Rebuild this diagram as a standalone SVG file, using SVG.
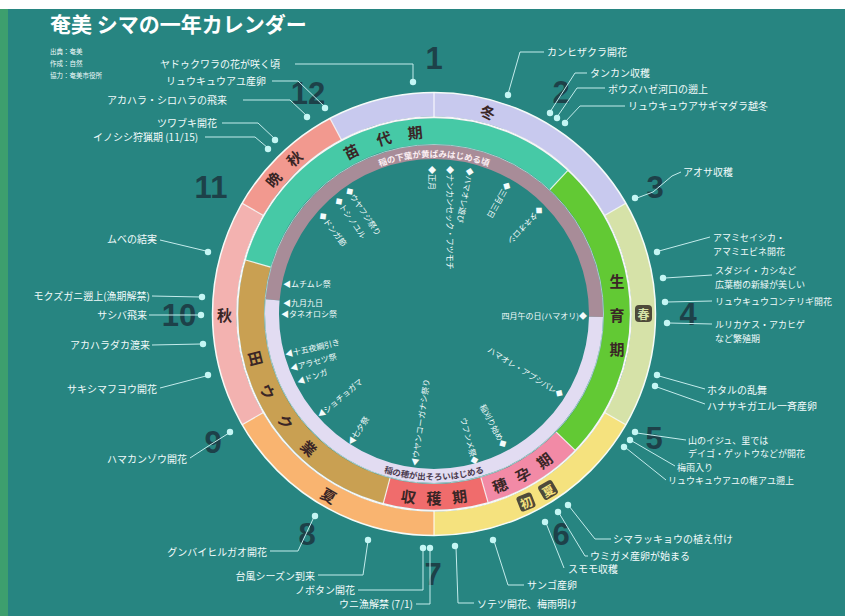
<svg xmlns="http://www.w3.org/2000/svg" width="845" height="616" viewBox="0 0 845 616">
<style>
.bg{fill:#278581}
.seg{fill:none}
.sep{stroke:#ffffff;stroke-width:1.2;opacity:.85}
.ring{font-family:"Noto Sans CJK JP","Noto Sans",sans-serif;font-weight:bold;font-size:15px;fill:#3a2626;text-anchor:middle;dominant-baseline:central}
.box{fill:#4e4a3a}
.boxt{font-family:"Noto Sans CJK JP","Noto Sans",sans-serif;font-weight:bold;font-size:12px;text-anchor:middle;dominant-baseline:central}
.mon{font-family:"Liberation Sans","DejaVu Sans",sans-serif;font-weight:bold;font-size:31px;fill:#1d4149;text-anchor:middle;dominant-baseline:central}
.lbl{font-family:"Noto Sans CJK JP","Noto Sans",sans-serif;font-size:10px;fill:#f2fbfb}
.sm{font-size:9px}
.in{font-family:"Noto Sans CJK JP","Noto Sans",sans-serif;font-size:8px;fill:#f4fcfc;dominant-baseline:central}
.arc{font-family:"Noto Sans CJK JP","Noto Sans",sans-serif;font-size:8.5px;font-weight:bold}
.ln{fill:none;stroke:#c4ecec;stroke-width:1}
.dot{fill:#c4f6f4}
</style>
<defs>
<path id="topArc" d="M366.6,172.1 A158,158 0 0 1 501.4,172.1"/>
<path id="botArc" d="M377.2,470 A166,166 0 0 0 490.8,470"/>
</defs>

<rect class="bg" x="0" y="0" width="845" height="616"/>
<rect x="0" y="0" width="845" height="9" fill="#ffffff"/>
<rect x="0" y="9" width="8" height="607" fill="#3d9f6e"/>

<g id="title">
<text x="50" y="32" font-family="'Noto Sans CJK JP','Noto Sans',sans-serif" font-weight="bold" font-size="21" fill="#ffffff">奄美 シマの一年カレンダー</text>
<text x="50" y="54" font-family="'Noto Sans CJK JP',sans-serif" font-size="6.5" fill="#f2fbfb">出典：奄美</text>
<text x="50" y="66" font-family="'Noto Sans CJK JP',sans-serif" font-size="6.5" fill="#f2fbfb">作成：自然</text>
<text x="50" y="78" font-family="'Noto Sans CJK JP',sans-serif" font-size="6.5" fill="#f2fbfb">協力：奄美市役所</text>
</g>

<!-- outer season ring -->
<g id="season-ring" transform="rotate(-90 434 314)">
<circle class="seg" cx="434" cy="314" r="209.5" pathLength="360" stroke-width="24" stroke="#c8c9ee" stroke-dasharray="88 272" stroke-dashoffset="-332"/>
<circle class="seg" cx="434" cy="314" r="209.5" pathLength="360" stroke-width="24" stroke="#d6e2a8" stroke-dasharray="60 300" stroke-dashoffset="-60"/>
<circle class="seg" cx="434" cy="314" r="209.5" pathLength="360" stroke-width="24" stroke="#f5e27e" stroke-dasharray="60 300" stroke-dashoffset="-120"/>
<circle class="seg" cx="434" cy="314" r="209.5" pathLength="360" stroke-width="24" stroke="#f9b470" stroke-dasharray="60 300" stroke-dashoffset="-180"/>
<circle class="seg" cx="434" cy="314" r="209.5" pathLength="360" stroke-width="24" stroke="#f3b2b0" stroke-dasharray="60 300" stroke-dashoffset="-240"/>
<circle class="seg" cx="434" cy="314" r="209.5" pathLength="360" stroke-width="24" stroke="#f2998f" stroke-dasharray="32 328" stroke-dashoffset="-300"/>
</g>
<!-- cultivation ring -->
<g id="crop-ring" transform="rotate(-90 434 314)">
<circle class="seg" cx="434" cy="314" r="183" pathLength="360" stroke-width="26" stroke="#46c9a6" stroke-dasharray="117 243" stroke-dashoffset="-286"/>
<circle class="seg" cx="434" cy="314" r="183" pathLength="360" stroke-width="26" stroke="#62c934" stroke-dasharray="91 269" stroke-dashoffset="-43"/>
<circle class="seg" cx="434" cy="314" r="183" pathLength="360" stroke-width="26" stroke="#f28aa6" stroke-dasharray="30 330" stroke-dashoffset="-134"/>
<circle class="seg" cx="434" cy="314" r="183" pathLength="360" stroke-width="26" stroke="#f06c6c" stroke-dasharray="31 329" stroke-dashoffset="-164"/>
<circle class="seg" cx="434" cy="314" r="183" pathLength="360" stroke-width="26" stroke="#c9a052" stroke-dasharray="91 269" stroke-dashoffset="-195"/>
</g>
<!-- inner band -->
<g id="inner-band" transform="rotate(-90 434 314)">
<circle class="seg" cx="434" cy="314" r="162" pathLength="360" stroke-width="14" stroke="#a88c98" stroke-dasharray="176 184" stroke-dashoffset="-275"/>
<circle class="seg" cx="434" cy="314" r="162" pathLength="360" stroke-width="14" stroke="#e2dcf2" stroke-dasharray="184 176" stroke-dashoffset="-91"/>
</g>
<g id="ring-lines" fill="none">
<circle cx="434" cy="314" r="221.5" stroke="#f4fbf8" stroke-width="1.5"/>
<circle cx="434" cy="314" r="196.8" stroke="#f6f6f6" stroke-width="2"/>
<circle cx="434" cy="314" r="169.5" stroke="#ffffff" stroke-width="1" opacity=".6"/>
<line class="sep" x1="434" y1="92.5" x2="434" y2="117" stroke-width="2"/>
<line class="sep" x1="434" y1="92.5" x2="434" y2="117" transform="rotate(180 434 314)" stroke-width="2"/>
<line class="sep" x1="434" y1="92.5" x2="434" y2="117" transform="rotate(60 434 314)"/>
<line class="sep" x1="434" y1="92.5" x2="434" y2="117" transform="rotate(120 434 314)"/>
<line class="sep" x1="434" y1="92.5" x2="434" y2="117" transform="rotate(240 434 314)"/>
<line class="sep" x1="434" y1="92.5" x2="434" y2="117" transform="rotate(300 434 314)"/>
<line class="sep" x1="434" y1="92.5" x2="434" y2="117" transform="rotate(332 434 314)"/>
<line class="sep" x1="434" y1="118" x2="434" y2="144" transform="rotate(43 434 314)"/>
<line class="sep" x1="434" y1="118" x2="434" y2="144" transform="rotate(134 434 314)"/>
<line class="sep" x1="434" y1="118" x2="434" y2="144" transform="rotate(164 434 314)"/>
<line class="sep" x1="434" y1="118" x2="434" y2="144" transform="rotate(195 434 314)"/>
<line class="sep" x1="434" y1="118" x2="434" y2="144" transform="rotate(286 434 314)"/>
</g>

<!-- season labels -->
<g id="season-winter"><text class="ring" transform="translate(488,112) rotate(15)">冬</text></g>
<g id="season-spring"><rect class="box" x="635" y="305" width="17" height="17" rx="4"/><text class="boxt" x="643.5" y="313.5" fill="#d6e2a8">春</text></g>
<g id="season-early-summer">
<g transform="translate(526,502) rotate(-22)"><rect class="box" x="-8" y="-8" width="16" height="16" rx="3"/><text class="boxt" x="0" y="0" fill="#f5e27e">初</text></g>
<g transform="translate(548,490) rotate(-30)"><rect class="box" x="-8" y="-8" width="16" height="16" rx="3"/><text class="boxt" x="0" y="0" fill="#f5e27e">夏</text></g>
</g>
<g id="season-summer"><text class="ring" transform="translate(329,495) rotate(30)">夏</text></g>
<g id="season-autumn"><text class="ring" x="224.5" y="314">秋</text></g>
<g id="season-late-autumn"><text class="ring" transform="translate(273,179) rotate(-50)">晩</text><text class="ring" transform="translate(294,158) rotate(-42)">秋</text></g>

<!-- crop period labels -->
<g id="period-nawashiro">
<text class="ring" transform="translate(351,151) rotate(-27)">苗</text>
<text class="ring" transform="translate(383.6,138) rotate(-16)">代</text>
<text class="ring" transform="translate(415,132) rotate(-6)">期</text>
</g>
<g id="period-growth">
<text class="ring" x="617" y="280">生</text>
<text class="ring" x="617" y="314">育</text>
<text class="ring" x="617" y="348">期</text>
</g>
<g id="period-heading">
<text class="ring" transform="translate(499.6,484.8) rotate(-21)">穂</text>
<text class="ring" transform="translate(522.7,474.1) rotate(-29)">孕</text>
<text class="ring" transform="translate(544.1,460.1) rotate(-37)">期</text>
</g>
<g id="period-harvest">
<text class="ring" transform="translate(408.5,496) rotate(8)">収</text>
<text class="ring" transform="translate(434,497.5)">穫</text>
<text class="ring" transform="translate(459.5,496) rotate(-8)">期</text>
</g>
<g id="period-fallow">
<text class="ring" transform="translate(256.4,358.3) rotate(76)">田</text>
<text class="ring" transform="translate(268.1,391.3) rotate(65)">ウ</text>
<text class="ring" transform="translate(286,421.6) rotate(54)">ク</text>
<text class="ring" transform="translate(309.2,447.8) rotate(43)">業</text>
</g>
<g id="band-texts">
<text class="arc" fill="#fbeef2"><textPath href="#topArc" startOffset="50%" text-anchor="middle">稲の下葉が黄ばみはじめる頃</textPath></text>
<text class="arc" fill="#4a3a4e"><textPath href="#botArc" startOffset="50%" text-anchor="middle">稲の穂が出そろいはじめる</textPath></text>
</g>

<!-- months -->
<g id="months">
<text class="mon" x="434" y="58">1</text>
<text class="mon" x="561" y="92">2</text>
<text class="mon" x="655" y="187">3</text>
<text class="mon" x="688" y="314">4</text>
<text class="mon" x="654" y="438">5</text>
<text class="mon" x="561" y="534">6</text>
<text class="mon" x="433" y="574">7</text>
<text class="mon" x="307" y="534">8</text>
<text class="mon" x="213" y="442">9</text>
<text class="mon" x="179" y="315">10</text>
<text class="mon" x="211" y="187">11</text>
<text class="mon" x="308" y="93">12</text>
</g>

<!-- inner event texts -->
<g id="inner-events" class="in">
<text transform="translate(432,166) rotate(90)">◆正月</text>
<text transform="translate(450,166) rotate(90)">◆ナンカンセック・フツモチ</text>
<text transform="translate(471,168) rotate(101)">◆ハマオレ遊び</text>
<text transform="translate(509,183) rotate(119)">◆三月三日</text>
<text transform="translate(542,208) rotate(133)">◆タネオロシ</text>
<text transform="translate(348,188) rotate(56)">◆ウヤフジ祭り</text>
<text transform="translate(337,198) rotate(55)">◆トシノユル</text>
<text transform="translate(321,213) rotate(53)">◆ドンガ節</text>
<text x="283" y="283">◀ムチムレ祭</text>
<text x="283" y="302">◀九月九日</text>
<text x="281" y="313">◀タネオロシ祭</text>
<text x="587" y="315" text-anchor="end">四月午の日(ハマオリ)◆</text>
<text transform="translate(563,395) rotate(32)" text-anchor="end">ハマオレ・アブシバレ◆</text>
<text transform="translate(505,447) rotate(62)" text-anchor="end">稲刈り始め◆</text>
<text transform="translate(476,464) rotate(75)" text-anchor="end">ウフンメ祭◆</text>
<text transform="translate(414,466) rotate(-82)">◀ウヤンコーガナシ祭り</text>
<text transform="translate(349,444) rotate(-57)">◀七夕祭</text>
<text transform="translate(318,416) rotate(-40)">◀ショチョガマ</text>
<text transform="translate(285,354) rotate(-13)">◀十五夜綱引き</text>
<text transform="translate(290,368) rotate(-15)">◀アラセツ祭</text>
<text transform="translate(297,382) rotate(-20)">◀ドンガ</text>
</g>

<!-- connectors -->
<g id="connectors">
<polyline class="ln" points="295,64 413,64 413,81"/>
<polyline class="ln" points="272,81 298,81 325,107"/>
<polyline class="ln" points="243,100 290,100 307,116"/>
<polyline class="ln" points="222,123 258,123 275,139"/>
<polyline class="ln" points="205,137 255,137 268,148"/>
<polyline class="ln" points="544,52 520,52 508,94"/>
<polyline class="ln" points="587,73 575,73 550,112"/>
<polyline class="ln" points="605,88 577,88 557,117"/>
<polyline class="ln" points="625,106 580,106 565,122"/>
<polyline class="ln" points="681,172 672,176 653,192 637,198"/>
<polyline class="ln" points="659,251 710,237"/>
<polyline class="ln" points="665,278 712,275"/>
<polyline class="ln" points="667,302 712,301"/>
<polyline class="ln" points="669,323 712,324"/>
<polyline class="ln" points="659,376 705,389"/>
<polyline class="ln" points="657,387 705,404"/>
<polyline class="ln" points="637,433 686,440"/>
<polyline class="ln" points="632,441 675,466"/>
<polyline class="ln" points="626,448 666,480"/>
<polyline class="ln" points="569,506 595,539 611,539"/>
<polyline class="ln" points="559,513 585,556 588,556"/>
<polyline class="ln" points="546,523 564,568"/>
<polyline class="ln" points="494,541 508,585 524,585"/>
<polyline class="ln" points="456,547 458,603 474,603"/>
<polyline class="ln" points="423,549 423,590 358,590"/>
<polyline class="ln" points="430,549 430,604 416,604"/>
<polyline class="ln" points="368,541 363,575 318,575"/>
<polyline class="ln" points="270,551 298,551 314,517"/>
<polyline class="ln" points="190,458 210,445 229,433"/>
<polyline class="ln" points="160,388 206,376"/>
<polyline class="ln" points="152,345 201,344"/>
<polyline class="ln" points="149,315 199,315"/>
<polyline class="ln" points="152,296 200,297"/>
<polyline class="ln" points="160,240 206,251"/>
<g class="dot">
<circle cx="413" cy="82" r="3.2"/><circle cx="325" cy="108" r="3.2"/><circle cx="307" cy="117" r="3.2"/>
<circle cx="275" cy="140" r="3.2"/><circle cx="268" cy="149" r="3.2"/><circle cx="508" cy="95" r="3.2"/>
<circle cx="550" cy="113" r="3.2"/><circle cx="557" cy="118" r="3.2"/><circle cx="565" cy="123" r="3.2"/>
<circle cx="635" cy="198" r="3.2"/><circle cx="657" cy="252" r="3.2"/><circle cx="663" cy="278" r="3.2"/>
<circle cx="665" cy="302" r="3.2"/><circle cx="667" cy="323" r="3.2"/><circle cx="657" cy="375" r="3.2"/>
<circle cx="655" cy="386" r="3.2"/><circle cx="635" cy="432" r="3.2"/><circle cx="630" cy="440" r="3.2"/>
<circle cx="624" cy="447" r="3.2"/><circle cx="568" cy="505" r="3.2"/><circle cx="558" cy="512" r="3.2"/>
<circle cx="545" cy="522" r="3.2"/><circle cx="493" cy="540" r="3.2"/><circle cx="455" cy="546" r="3.2"/>
<circle cx="430" cy="548" r="3.2"/><circle cx="423" cy="548" r="3.2"/><circle cx="368" cy="540" r="3.2"/>
<circle cx="315" cy="516" r="3.2"/><circle cx="230" cy="432" r="3.2"/><circle cx="208" cy="375" r="3.2"/>
<circle cx="203" cy="344" r="3.2"/><circle cx="201" cy="315" r="3.2"/><circle cx="202" cy="297" r="3.2"/>
<circle cx="208" cy="252" r="3.2"/>
</g>
</g>

<!-- outer labels -->
<g id="labels-top-left" class="lbl">
<text x="160" y="68">ヤドゥクワラの花が咲く頃</text>
<text x="166" y="85">リュウキュウアユ産卵</text>
<text x="107" y="104">アカハラ・シロハラの飛来</text>
<text x="157" y="127">ツワブキ開花</text>
<text x="93" y="141">イノシシ狩猟期 (11/15)</text>
</g>
<g id="labels-top-right" class="lbl">
<text x="547" y="56">カンヒザクラ開花</text>
<text x="590" y="77">タンカン収穫</text>
<text x="608" y="93">ボウズハゼ河口の遡上</text>
<text x="628" y="110">リュウキュウアサギマダラ越冬</text>
</g>
<g id="labels-right" class="lbl">
<text x="683" y="176">アオサ収穫</text>
<text class="sm" x="713" y="241">アマミセイシカ・</text>
<text class="sm" x="713" y="255">アマミエビネ開花</text>
<text class="sm" x="715" y="274">スダジイ・カシなど</text>
<text class="sm" x="715" y="288">広葉樹の新緑が美しい</text>
<text class="sm" x="715" y="305">リュウキュウコンテリギ開花</text>
<text class="sm" x="715" y="328">ルリカケス・アカヒゲ</text>
<text class="sm" x="715" y="342">など繁殖期</text>
<text x="707" y="394">ホタルの乱舞</text>
<text x="707" y="410">ハナサキガエル一斉産卵</text>
<text class="sm" x="688" y="444">山のイジュ、里では</text>
<text class="sm" x="688" y="457">デイゴ・ゲットウなどが開花</text>
<text class="sm" x="677" y="470.5">梅雨入り</text>
<text class="sm" x="668" y="484">リュウキュウアユの稚アユ遡上</text>
</g>
<g id="labels-bottom" class="lbl">
<text x="613" y="543">シマラッキョウの植え付け</text>
<text x="590" y="560">ウミガメ産卵が始まる</text>
<text x="568" y="573">スモモ収穫</text>
<text x="527" y="589">サンゴ産卵</text>
<text x="477" y="608">ソテツ開花、梅雨明け</text>
<text x="355" y="594" text-anchor="end">ノボタン開花</text>
<text x="413" y="608" text-anchor="end">ウニ漁解禁 (7/1)</text>
<text x="315" y="580" text-anchor="end">台風シーズン到来</text>
<text x="267" y="556" text-anchor="end">グンバイヒルガオ開花</text>
</g>
<g id="labels-left" class="lbl">
<text x="187" y="463" text-anchor="end">ハマカンゾウ開花</text>
<text x="157" y="393" text-anchor="end">サキシマフヨウ開花</text>
<text x="150" y="349" text-anchor="end">アカハラダカ渡来</text>
<text x="147" y="319" text-anchor="end">サシバ飛来</text>
<text x="150" y="300" text-anchor="end">モクズガニ遡上(漁期解禁)</text>
<text x="157" y="243" text-anchor="end">ムベの結実</text>
</g>
</svg>
